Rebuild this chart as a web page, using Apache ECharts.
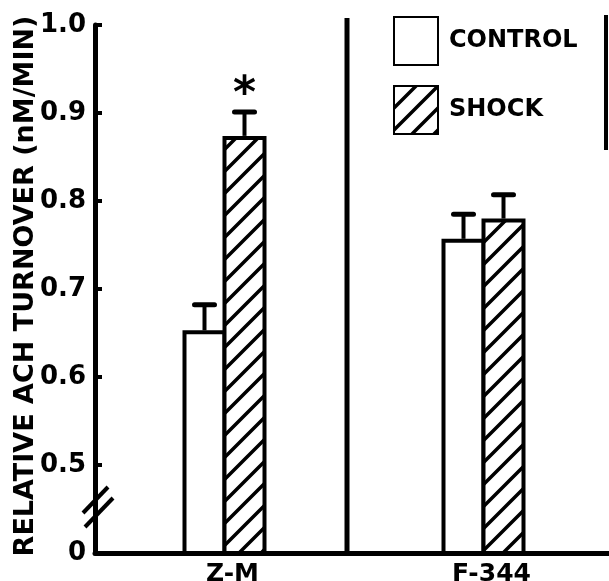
<!DOCTYPE html>
<html>
<head>
<meta charset="utf-8">
<script src="https://cdn.jsdelivr.net/npm/echarts@6/dist/echarts.min.js"></script>
<style>
html,body{margin:0;padding:0;background:#fff;}
#chart{width:609px;height:581px;}
</style>
</head>
<body>
<div id="chart"></div>
<script>
// ---- data ----
var categories = ['Z-M', 'F-344'];
var seriesNames = ['CONTROL', 'SHOCK'];
var controlValues = [0.653, 0.757];
var controlErrors = [0.029, 0.028];
var shockValues = [0.874, 0.780];
var shockErrors = [0.027, 0.027];
var significance = ['', ''];
var shockSignificance = ['*', ''];
var yTicks = [0.4, 0.5, 0.6, 0.7, 0.8, 0.9, 1.0];
var yTickLabels = ['0', '0.5', '0.6', '0.7', '0.8', '0.9', '1.0'];
var yAxisTitle = 'RELATIVE ACH TURNOVER (nM/MIN)';

var FONT = '"DejaVu Sans", sans-serif';
var BAR_W = 44;
var OVERLAP = 4;

// hatch pattern "/"
function makeHatch() {
  var s = 22;
  var c = document.createElement('canvas');
  c.width = s; c.height = s;
  var ctx = c.getContext('2d');
  ctx.fillStyle = '#fff';
  ctx.fillRect(0, 0, s, s);
  ctx.strokeStyle = '#000';
  ctx.lineWidth = 3.5;
  ctx.lineCap = 'square';
  [[-s, 0], [0, 0], [s, 0]].forEach(function (o) {
    ctx.beginPath();
    ctx.moveTo(o[0], s + o[1]);
    ctx.lineTo(o[0] + s, o[1]);
    ctx.stroke();
  });
  return c;
}
var hatch = makeHatch();

var chart = echarts.init(document.getElementById('chart'), null, {renderer: 'canvas'});

function errorSeries(values, errors, sig, sign) {
  return {
    type: 'custom',
    silent: true,
    z: 5,
    data: values.map(function (v, i) { return [i, v, errors[i]]; }),
    renderItem: function (params, api) {
      var i = api.value(0), v = api.value(1), e = api.value(2);
      var base = api.coord([i, v]);
      var top = api.coord([i, v + e]);
      var x = base[0] + sign * (BAR_W - OVERLAP) / 2;
      var children = [
        {type: 'line', shape: {x1: x, y1: base[1], x2: x, y2: top[1]},
         style: {stroke: '#000', lineWidth: 4}},
        {type: 'line', shape: {x1: x - 10, y1: top[1], x2: x + 10, y2: top[1]},
         style: {stroke: '#000', lineWidth: 5, lineCap: 'round'}}
      ];
      if (sig[i]) {
        children.push({type: 'text', x: x, y: top[1] + 5,
          style: {text: sig[i], fill: '#000', font: 'bold 44px ' + FONT,
                  align: 'center', verticalAlign: 'bottom'}});
      }
      return {type: 'group', children: children};
    }
  };
}

var option = {
  backgroundColor: '#fff',
  animation: false,
  grid: {left: 95, top: 25, bottom: 28, width: 518, containLabel: false, outerBoundsMode: 'none'},
  legend: {
    orient: 'vertical',
    left: 393, top: 16, padding: 0,
    itemWidth: 44, itemHeight: 48, itemGap: 19,
    icon: 'rect',
    data: seriesNames,
    textStyle: {fontFamily: FONT, fontWeight: 'bold', fontSize: 24, color: '#000', padding: [0, 0, 0, 6]}
  },
  xAxis: {
    type: 'category',
    data: categories,
    axisLine: {lineStyle: {color: '#000', width: 5}},
    axisTick: {show: false},
    axisLabel: {
      color: '#000', fontFamily: FONT, fontWeight: 'bold', fontSize: 25,
      margin: 9, padding: [0, 0, 0, 16]
    }
  },
  yAxis: {
    type: 'value',
    min: 0.4, max: 1.0, interval: 0.1,
    name: yAxisTitle,
    nameLocation: 'middle',
    nameGap: 56,
    nameMoveOverlap: false,
    nameTextStyle: {color: '#000', fontFamily: FONT, fontWeight: 'bold', fontSize: 27, padding: [0, 0, 0, 6]},
    axisLine: {show: true, lineStyle: {color: '#000', width: 5}},
    axisTick: {show: true, inside: true, length: 7, lineStyle: {color: '#000', width: 4}},
    splitLine: {show: false},
    axisLabel: {
      color: '#000', fontFamily: FONT, fontWeight: 'bold', fontSize: 26, margin: 9,
      formatter: function (v) {
        for (var k = 0; k < yTicks.length; k++) {
          if (Math.abs(yTicks[k] - v) < 1e-6) return yTickLabels[k];
        }
        return '';
      }
    }
  },
  series: [
    {
      name: seriesNames[0], type: 'bar', data: controlValues,
      barWidth: BAR_W, barGap: (-OVERLAP / BAR_W * 100) + '%',
      itemStyle: {color: '#fff', borderColor: '#000', borderWidth: 4}
    },
    {
      name: seriesNames[1], type: 'bar', data: shockValues,
      barWidth: BAR_W, barGap: (-OVERLAP / BAR_W * 100) + '%',
      itemStyle: {color: {image: hatch, repeat: 'repeat'}, borderColor: '#000', borderWidth: 4}
    },
    errorSeries(controlValues, controlErrors, significance, -1),
    errorSeries(shockValues, shockErrors, shockSignificance, 1)
  ]
};
chart.setOption(option);

// decorations: group divider, legend frame edge, axis break marks
var p5 = chart.convertToPixel({gridIndex: 0}, [0, 0.45]);
var pBase = chart.convertToPixel({gridIndex: 0}, [0, 0.4]);
var ax = 95;
chart.setOption({
  graphic: [
    {type: 'line', shape: {x1: 347, y1: 18, x2: 347, y2: pBase[1]}, style: {stroke: '#000', lineWidth: 5}},
    {type: 'line', shape: {x1: 606, y1: 15, x2: 606, y2: 150}, style: {stroke: '#000', lineWidth: 4}},
    {type: 'line', shape: {x1: ax - 12, y1: p5[1] + 4, x2: ax + 13, y2: p5[1] - 22}, style: {stroke: '#000', lineWidth: 4}},
    {type: 'line', shape: {x1: ax - 10, y1: p5[1] + 18, x2: ax + 18, y2: p5[1] - 11}, style: {stroke: '#000', lineWidth: 4}}
  ]
});
</script>
</body>
</html>
